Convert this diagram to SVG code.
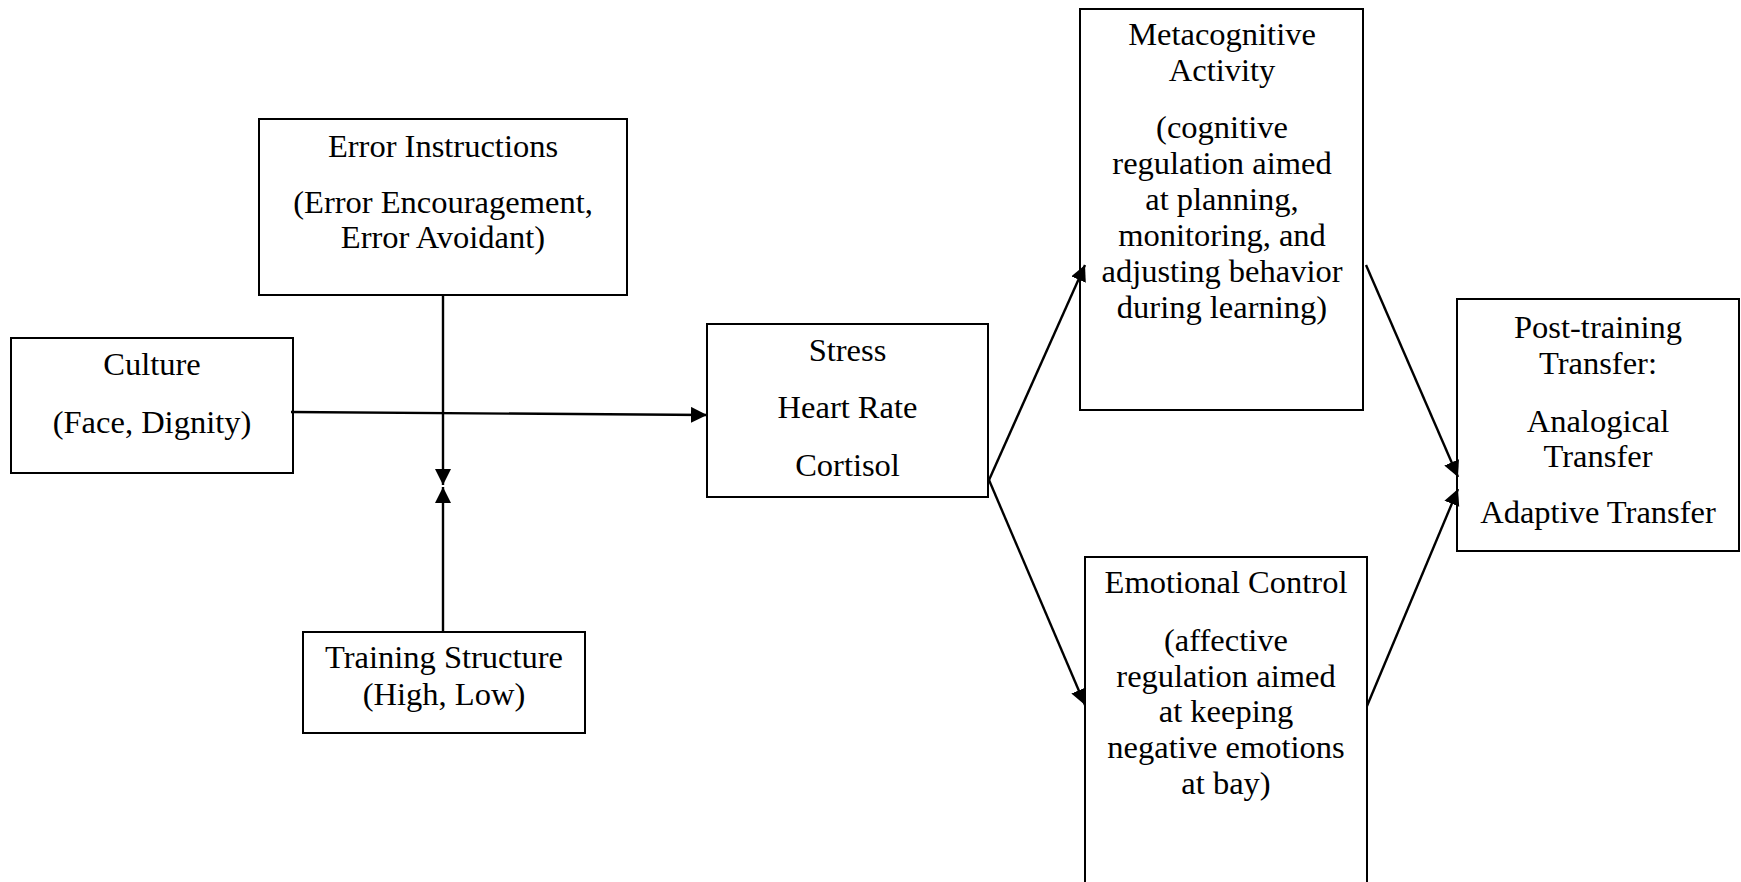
<svg xmlns="http://www.w3.org/2000/svg" width="1741" height="882" viewBox="0 0 1741 882">
<style>
.box{fill:#fff;stroke:#000;stroke-width:2}
.t{font-family:"Liberation Serif","Times New Roman",serif;font-size:32.5px;fill:#000;text-anchor:middle}
.c{stroke:#000;stroke-width:2.4;fill:none}
</style>
<defs>
<marker id="ah" markerUnits="userSpaceOnUse" markerWidth="18" markerHeight="18" refX="16" refY="8" orient="auto">
<path d="M0,0 L16,8 L0,16 Z" fill="#000"/>
</marker>
</defs>
<rect width="1741" height="882" fill="#fff"/>
<g id="error-instructions">
<rect class="box" x="259" y="119" width="368" height="176"/>
<text class="t" x="443" y="157">Error Instructions</text>
<text class="t" x="443" y="213">(Error Encouragement,</text>
<text class="t" x="443" y="248">Error Avoidant)</text>
</g>
<g id="culture">
<rect class="box" x="11" y="338" width="282" height="135"/>
<text class="t" x="152" y="375">Culture</text>
<text class="t" x="152" y="433">(Face, Dignity)</text>
</g>
<g id="stress">
<rect class="box" x="707" y="324" width="281" height="173"/>
<text class="t" x="847.5" y="361">Stress</text>
<text class="t" x="847.5" y="418">Heart Rate</text>
<text class="t" x="847.5" y="476">Cortisol</text>
</g>
<g id="training-structure">
<rect class="box" x="303" y="632" width="282" height="101"/>
<text class="t" x="444" y="668">Training Structure</text>
<text class="t" x="444" y="705">(High, Low)</text>
</g>
<g id="metacognitive">
<rect class="box" x="1080" y="9" width="283" height="401"/>
<text class="t" x="1222" y="45">Metacognitive</text>
<text class="t" x="1222" y="81">Activity</text>
<text class="t" x="1222" y="138">(cognitive</text>
<text class="t" x="1222" y="174">regulation aimed</text>
<text class="t" x="1222" y="210">at planning,</text>
<text class="t" x="1222" y="246">monitoring, and</text>
<text class="t" x="1222" y="282">adjusting behavior</text>
<text class="t" x="1222" y="318">during learning)</text>
</g>
<g id="emotional-control">
<rect class="box" x="1085" y="557" width="282" height="340"/>
<text class="t" x="1226" y="593">Emotional Control</text>
<text class="t" x="1226" y="651">(affective</text>
<text class="t" x="1226" y="687">regulation aimed</text>
<text class="t" x="1226" y="722">at keeping</text>
<text class="t" x="1226" y="758">negative emotions</text>
<text class="t" x="1226" y="794">at bay)</text>
</g>
<g id="post-training">
<rect class="box" x="1457" y="299" width="282" height="252"/>
<text class="t" x="1598" y="338">Post-training</text>
<text class="t" x="1598" y="374">Transfer:</text>
<text class="t" x="1598" y="432">Analogical</text>
<text class="t" x="1598" y="467">Transfer</text>
<text class="t" x="1598" y="523">Adaptive Transfer</text>
</g>
<g id="connectors">
<path class="c" d="M291,412 L707,415" marker-end="url(#ah)"/>
<path class="c" d="M443,295 L443,485" marker-end="url(#ah)"/>
<path class="c" d="M443,632 L443,487" marker-end="url(#ah)"/>
<path class="c" d="M989,480 L1085,265" marker-end="url(#ah)"/>
<path class="c" d="M989,480 L1085,705" marker-end="url(#ah)"/>
<path class="c" d="M1366,265 L1458,477" marker-end="url(#ah)"/>
<path class="c" d="M1367,706 L1458,489" marker-end="url(#ah)"/>
</g>
</svg>
